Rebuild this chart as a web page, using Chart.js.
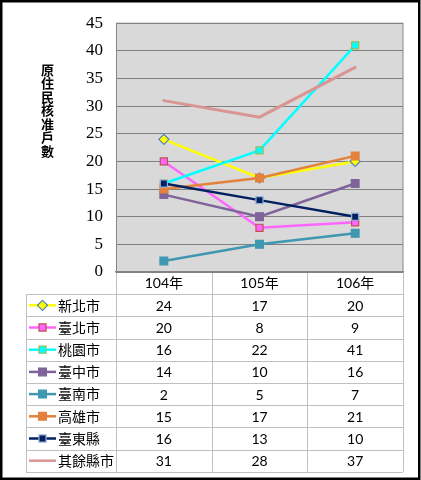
<!DOCTYPE html>
<html>
<head>
<meta charset="utf-8">
<script src="https://cdn.jsdelivr.net/npm/chart.js@4/dist/chart.umd.min.js"></script>
<style>
  html, body { margin: 0; padding: 0; background: #fff; }
  canvas { display: block; }
</style>
</head>
<body>
<canvas id="chart" width="421" height="480"></canvas>
<script>
// ---- data ----
const years = ['104年', '105年', '106年'];
const cities = ['新北市', '臺北市', '桃園市', '臺中市', '臺南市', '高雄市', '臺東縣', '其餘縣市'];
const newTaipei = [24, 17, 20];
const taipei    = [20, 8, 9];
const taoyuan   = [16, 22, 41];
const taichung  = [14, 10, 16];
const tainan    = [2, 5, 7];
const kaohsiung = [15, 17, 21];
const taitung   = [16, 13, 10];
const others    = [31, 28, 37];
const yTicks = { min: 0, max: 45, step: 5 };
const yTitle = '原住民核准戶數';

const seriesValues = [newTaipei, taipei, taoyuan, taichung, tainan, kaohsiung, taitung, others];

// ---- styles ----
const lineColors   = ['#ffff00', '#ff66ff', '#00ffff', '#7f6399', '#3f97b0', '#e2823b', '#002060', '#d99594'];
const markerFill   = ['#ffff00', '#ff66ff', '#00ffff', '#7f6399', '#3f97b0', '#e2823b', '#002060', '#d99594'];
const markerEdge   = ['#4f81bd', '#c0504d', '#9bbb59', '#7f6399', '#3f97b0', '#e2823b', '#95b3d7', '#d99594'];
const markerShape  = ['rectRot', 'rect', 'rect', 'rect', 'rect', 'rect', 'rect', false];
const markerSize   = [5, 5, 5, 5.5, 5.5, 5.5, 5, 0];

const ROW_H = 22.2;
const TABLE_LEFT = 26;
const numFont = '14px Lato, "Noto Sans CJK TC"';

function drawMarker(ctx, shape, x, y, r, fill, edge) {
  if (!shape) return;
  ctx.save();
  ctx.fillStyle = fill;
  ctx.strokeStyle = edge;
  ctx.lineWidth = 1.2;
  ctx.beginPath();
  if (shape === 'rect') {
    const s = Math.SQRT1_2 * r;
    ctx.rect(x - s, y - s, 2 * s, 2 * s);
  } else {
    ctx.moveTo(x, y - r);
    ctx.lineTo(x + r, y);
    ctx.lineTo(x, y + r);
    ctx.lineTo(x - r, y);
    ctx.closePath();
  }
  ctx.fill();
  ctx.stroke();
  ctx.restore();
}

const framePlugin = {
  id: 'frame',
  beforeDraw(chart) {
    const { ctx, chartArea: a } = chart;
    ctx.save();
    ctx.fillStyle = '#fff';
    ctx.fillRect(0, 0, chart.width, chart.height);
    ctx.fillStyle = '#d9d9d9';
    ctx.fillRect(a.left, a.top, a.right - a.left, a.bottom - a.top);
    ctx.restore();
  },
  afterDraw(chart) {
    const { ctx, chartArea: a } = chart;
    const xs = chart.scales.x;
    ctx.save();

    // plot border
    ctx.strokeStyle = '#868686';
    ctx.lineWidth = 1;
    ctx.strokeRect(a.left + 0.5, a.top, a.right - a.left - 0.5, a.bottom - a.top);

    // data table grid
    const headTop = a.bottom;
    const headBottom = headTop + ROW_H;
    const tableBottom = headBottom + ROW_H * cities.length;
    const colW = (a.right - a.left) / years.length;
    ctx.strokeStyle = '#c0c0c0';
    ctx.lineWidth = 1;
    ctx.beginPath();
    for (let r = 0; r <= cities.length; r++) {
      const y = Math.round(headBottom + r * ROW_H) + 0.5;
      ctx.moveTo(TABLE_LEFT, y);
      ctx.lineTo(a.right, y);
    }
    ctx.moveTo(TABLE_LEFT + 0.5, headBottom);
    ctx.lineTo(TABLE_LEFT + 0.5, tableBottom);
    for (let c = 0; c <= years.length; c++) {
      const x = Math.round(a.left + c * colW) + 0.5;
      ctx.moveTo(x, headTop + 1);
      ctx.lineTo(x, tableBottom);
    }
    ctx.stroke();

    // rows: legend key + values
    ctx.textBaseline = 'middle';
    cities.forEach((name, i) => {
      const cy = headBottom + ROW_H * (i + 0.5);
      ctx.strokeStyle = lineColors[i];
      ctx.lineWidth = 2.5;
      ctx.beginPath();
      ctx.moveTo(29, cy);
      ctx.lineTo(56, cy);
      ctx.stroke();
      drawMarker(ctx, markerShape[i], 42.5, cy, markerSize[i], markerFill[i], markerEdge[i]);

      ctx.fillStyle = '#000';
      ctx.font = '14px "Noto Sans CJK TC"';
      ctx.textAlign = 'left';
      ctx.fillText(name, 58, cy);

      ctx.font = numFont;
      ctx.textAlign = 'center';
      seriesValues[i].forEach((v, j) => {
        ctx.fillText(String(v), xs.getPixelForValue(j), cy + 1);
      });
    });

    // vertical y-axis title, one character per line
    ctx.fillStyle = '#000';
    ctx.font = 'bold 13px "Noto Sans CJK TC"';
    ctx.textAlign = 'center';
    ctx.textBaseline = 'middle';
    Array.from(yTitle).forEach((ch, k) => {
      ctx.fillText(ch, 47.5, 70 + k * 13.5);
    });

    // outer frame
    ctx.strokeStyle = '#000';
    ctx.lineWidth = 2.5;
    ctx.strokeRect(1.25, 1.25, chart.width - 3, chart.height - 2.5);
    ctx.restore();
  }
};

const datasets = cities.map((name, i) => ({
  label: name,
  data: seriesValues[i],
  borderColor: lineColors[i],
  backgroundColor: markerFill[i],
  borderWidth: i === 7 ? 3 : 2.5,
  pointStyle: markerShape[i] || 'circle',
  pointRadius: markerSize[i],
  pointHoverRadius: markerSize[i],
  pointBackgroundColor: markerFill[i],
  pointBorderColor: markerEdge[i],
  pointBorderWidth: 1.2,
  borderCapStyle: 'round',
  tension: 0,
  order: cities.length - i
}));

new Chart(document.getElementById('chart'), {
  type: 'line',
  data: { labels: years, datasets: datasets },
  plugins: [framePlugin],
  options: {
    responsive: false,
    animation: false,
    events: [],
    layout: { padding: { top: 19, right: 18, left: 0, bottom: 0 } },
    plugins: {
      legend: { display: false },
      tooltip: { enabled: false }
    },
    scales: {
      x: {
        offset: true,
        grid: { display: false, drawTicks: false },
        border: { display: true, color: '#808080', width: 1.5 },
        ticks: {
          padding: 3,
          color: '#000',
          font: { family: 'Lato, "Noto Sans CJK TC"', size: 14 }
        },
        afterFit(scale) { scale.height = 208; }
      },
      y: {
        min: yTicks.min,
        max: yTicks.max,
        grid: { color: '#808080', lineWidth: 1, drawTicks: false },
        border: { display: true, color: '#868686' },
        ticks: {
          stepSize: yTicks.step,
          padding: 13,
          color: '#000',
          font: { family: '"Liberation Serif", "DejaVu Serif", serif', size: 17 }
        },
        afterFit(scale) { scale.width = 116; }
      }
    }
  }
});
</script>
</body>
</html>
